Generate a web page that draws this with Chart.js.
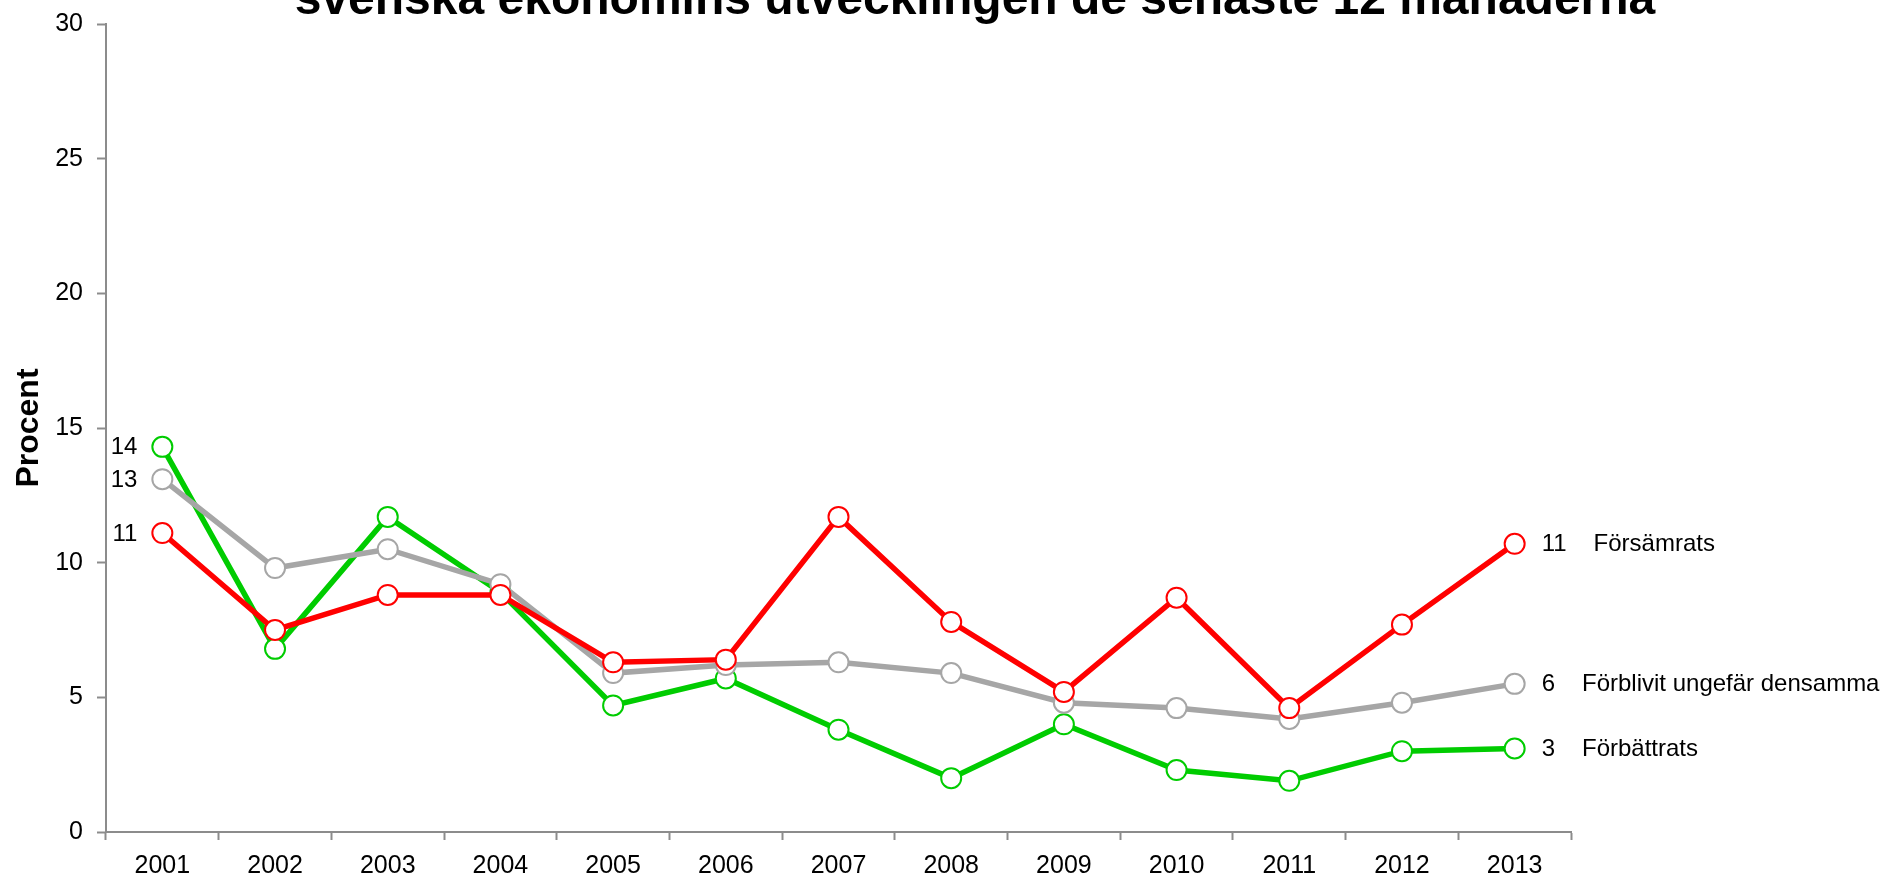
<!DOCTYPE html>
<html>
<head>
<meta charset="utf-8">
<script src="https://cdn.jsdelivr.net/npm/chart.js@4/dist/chart.umd.min.js"></script>
<style>
    html, body { margin: 0; padding: 0; background: #fff; }
    #wrap { width: 1883px; height: 877px; position: relative; }
</style>
</head>
<body>
<div id="wrap"><canvas id="chart"></canvas></div>
<script>
// Andel (procent) per år och svar
const years = ['2001', '2002', '2003', '2004', '2005', '2006', '2007', '2008', '2009', '2010', '2011', '2012', '2013'];
const forsamrats = [11.1, 7.5, 8.8, 8.8, 6.3, 6.4, 11.7, 7.8, 5.2, 8.7, 4.6, 7.7, 10.7];
const oforandrat = [13.1, 9.8, 10.5, 9.2, 5.9, 6.2, 6.3, 5.9, 4.8, 4.6, 4.2, 4.8, 5.5];
const forbattrats = [14.3, 6.8, 11.7, 8.9, 4.7, 5.7, 3.8, 2.0, 4.0, 2.3, 1.9, 3.0, 3.1];
const yTicks = [0, 5, 10, 15, 20, 25, 30];

const titleText = 'svenska ekonomins utvecklingen de senaste 12 månaderna';
const FONT = "'Liberation Sans', Arial, sans-serif";
const axisGray = '#8c8c8c';

function line(label, data, color) {
    return {
        label: label,
        data: data,
        borderColor: color,
        backgroundColor: '#ffffff',
        borderWidth: 5.5,
        pointRadius: 10,
        pointHoverRadius: 10,
        pointBorderWidth: 2,
        pointBorderColor: color,
        pointBackgroundColor: '#ffffff',
        tension: 0
    };
}

// titel (delvis utanför kanten) och värden vid första/sista punkten
const labelsPlugin = {
    id: 'labelsPlugin',
    afterDatasetsDraw(chart) {
        const ctx = chart.ctx;
        ctx.save();
        ctx.fillStyle = '#000';
        ctx.font = 'bold 48px ' + FONT;
        ctx.textAlign = 'center';
        ctx.textBaseline = 'alphabetic';
        ctx.fillText(titleText, 975, 14);

        ctx.font = '24px ' + FONT;
        ctx.textBaseline = 'middle';
        chart.data.datasets.forEach((ds, i) => {
            const pts = chart.getDatasetMeta(i).data;
            const first = pts[0];
            const last = pts[pts.length - 1];
            const v0 = String(Math.round(ds.data[0]));
            const v1 = String(Math.round(ds.data[ds.data.length - 1]));
            ctx.textAlign = 'right';
            ctx.fillText(v0, first.x - 25, first.y + 1);
            ctx.textAlign = 'left';
            ctx.fillText(v1, last.x + 27, last.y + 1);
            const w = ctx.measureText(v1).width;
            ctx.fillText(ds.label, last.x + 27 + w + 27, last.y + 1);
        });
        ctx.restore();
    }
};

new Chart(document.getElementById('chart'), {
    type: 'line',
    data: {
        labels: years,
        datasets: [
            line('Försämrats', forsamrats, '#ff0000'),
            line('Förblivit ungefär densamma', oforandrat, '#a6a6a6'),
            line('Förbättrats', forbattrats, '#00cc00')
        ]
    },
    options: {
        responsive: true,
        maintainAspectRatio: false,
        animation: false,
        layout: { padding: { top: 24, right: 312, bottom: 0, left: 0 } },
        plugins: {
            legend: { display: false },
            tooltip: { enabled: false }
        },
        scales: {
            x: {
                offset: true,
                afterFit(scale) {
                    scale.height = 45;
                },
                grid: {
                    offset: true,
                    drawOnChartArea: false,
                    drawTicks: true,
                    tickLength: 8,
                    tickWidth: 2,
                    tickColor: axisGray
                },
                border: { color: axisGray, width: 2 },
                ticks: {
                    color: '#000',
                    padding: 11,
                    maxRotation: 0,
                    font: { family: FONT, size: 25 }
                }
            },
            y: {
                min: 0,
                max: 30,
                afterBuildTicks(scale) {
                    scale.ticks = yTicks.map(v => ({ value: v }));
                },
                afterFit(scale) {
                    scale.width = 106;
                    scale.paddingTop = 0;
                    scale.paddingBottom = 0;
                },
                grid: {
                    drawOnChartArea: false,
                    drawTicks: true,
                    tickLength: 9,
                    tickWidth: 2,
                    tickColor: axisGray
                },
                border: { color: axisGray, width: 2 },
                ticks: {
                    color: '#000',
                    padding: 14,
                    font: { family: FONT, size: 25 }
                },
                title: {
                    display: true,
                    text: 'Procent',
                    color: '#000',
                    padding: { top: 10, bottom: 0 },
                    font: { family: FONT, size: 32, weight: 'bold' }
                }
            }
        }
    },
    plugins: [labelsPlugin]
});
</script>
</body>
</html>
